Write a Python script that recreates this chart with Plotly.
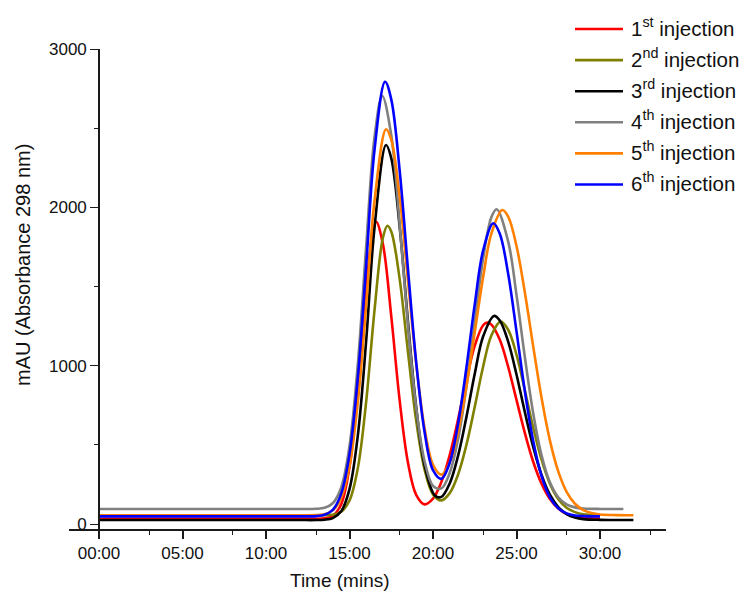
import plotly.graph_objects as go

# ---------------- data ----------------
series_names = ["1<sup>st</sup> injection", "2<sup>nd</sup> injection", "3<sup>rd</sup> injection",
                "4<sup>th</sup> injection", "5<sup>th</sup> injection", "6<sup>th</sup> injection"]
series_colors = ["#FF0000", "#808000", "#000000", "#808080", "#FF8000", "#0000FF"]

time_1st = [0, 10, 12, 13, 13.5, 14, 14.5, 15, 15.5, 16, 16.59, 17, 17.5, 18, 18.5, 19, 19.5, 20, 20.5, 21,
            21.5, 22, 22.5, 23, 23.25, 23.5, 24, 24.5, 25, 25.5, 26, 26.5, 27, 27.5, 28, 29, 30]
mau_1st = [33, 33, 33, 33, 36, 51, 124, 359, 858, 1507, 1909, 1768, 1313, 784, 388, 183, 124, 160, 265, 435,
           660, 908, 1126, 1255, 1272, 1259, 1163, 993, 784, 575, 393, 254, 158, 98, 64, 39, 34]

time_2nd = [0, 10, 12, 13, 13.5, 14, 14.5, 15, 15.5, 16, 16.5, 17, 17.27, 17.5, 18, 18.5, 19, 19.5, 20, 20.5,
            21, 21.5, 22, 22.5, 23, 23.5, 24.05, 24.5, 25, 25.5, 26, 26.5, 27, 27.5, 28, 28.5, 29, 30]
mau_2nd = [55, 55, 55, 55, 56, 59, 77, 148, 354, 775, 1353, 1808, 1884, 1848, 1550, 1088, 648, 342, 187, 149,
           195, 312, 499, 740, 993, 1192, 1278, 1227, 1069, 845, 609, 406, 255, 158, 103, 75, 62, 56]

time_3rd = [0, 10, 12, 13, 13.5, 14, 14.5, 15, 15.5, 16, 16.5, 17.19, 17.5, 18, 18.5, 19, 19.5, 20.12, 20.5, 21,
            21.5, 22, 22.5, 23, 23.65, 24, 24.5, 25, 25.5, 26, 26.5, 27, 27.5, 28, 28.5, 29, 30, 31, 32]
mau_3rd = [25, 25, 25, 25, 27, 37, 80, 220, 560, 1159, 1874, 2394, 2311, 1882, 1279, 732, 368, 179, 171, 256,
           430, 675, 949, 1184, 1314, 1285, 1152, 944, 707, 487, 310, 185, 107, 63, 41, 31, 26, 25, 25]

time_4th = [0, 10, 12, 13, 13.5, 14, 14.5, 15, 15.5, 16, 16.5, 16.96, 17.5, 18, 18.5, 19, 19.5, 20.02, 20.5, 21,
            21.5, 22, 22.5, 23, 23.5, 23.81, 24.5, 25, 25.5, 26, 26.5, 27, 27.5, 28, 28.5, 29, 30, 31.4]
mau_4th = [95, 95, 95, 96, 102, 131, 229, 492, 1012, 1755, 2446, 2703, 2456, 1898, 1256, 728, 395, 238, 225, 322,
           535, 867, 1277, 1676, 1939, 1988, 1785, 1447, 1055, 700, 434, 263, 169, 124, 105, 98, 95, 95]

time_5th = [0, 10, 12, 13, 13.5, 14, 14.5, 15, 15.5, 16, 16.5, 17.19, 17.5, 18, 18.5, 19, 19.5, 20, 20.5, 21,
            21.5, 22, 22.5, 23, 23.5, 24.15, 24.5, 25, 25.5, 26, 26.5, 27, 27.5, 28, 28.5, 29, 29.5, 30, 31, 32]
mau_5th = [55, 55, 55, 56, 62, 86, 165, 367, 772, 1384, 2043, 2493, 2427, 2071, 1539, 1007, 603, 374, 312, 388,
           580, 866, 1211, 1558, 1836, 1983, 1942, 1756, 1462, 1122, 797, 528, 332, 203, 128, 88, 69, 60, 56, 55]

time_6th = [0, 10, 12, 13, 13.5, 14, 14.5, 15, 15.5, 16, 16.5, 17.13, 17.5, 18, 18.5, 19, 19.5, 20, 20.5, 21,
            21.5, 22, 22.5, 23, 23.61, 24, 24.5, 25, 25.5, 26, 26.5, 27, 27.5, 28, 28.5, 29, 30]
mau_6th = [48, 48, 48, 50, 58, 89, 190, 441, 927, 1636, 2364, 2793, 2682, 2236, 1612, 1015, 578, 340, 285, 387,
           632, 987, 1387, 1727, 1899, 1833, 1581, 1217, 839, 524, 302, 168, 99, 67, 54, 50, 48]

x_tick_vals = [0, 5, 10, 15, 20, 25, 30]
x_tick_text = ["00:00", "05:00", "10:00", "15:00", "20:00", "25:00", "30:00"]
x_minor_vals = [3, 8, 13, 18, 23, 28, 33]
y_tick_vals = [0, 1000, 2000, 3000]
y_minor_vals = [500, 1500, 2500]

times = [time_1st, time_2nd, time_3rd, time_4th, time_5th, time_6th]
values = [mau_1st, mau_2nd, mau_3rd, mau_4th, mau_5th, mau_6th]

# ---------------- figure ----------------
W, H = 744, 592
ML, MR, MT, MB = 69, 78, 49, 63
PW, PH = W - ML - MR, H - MT - MB
FONT = "Liberation Sans, Arial, sans-serif"
AX = "#1a1a1a"

def px_x(p):
    return (p - ML) / PW

def px_y(p):
    return (H - MB - p) / PH

fig = go.Figure()
for t, v, c, n in zip(times, values, series_colors, series_names):
    fig.add_trace(go.Scatter(x=t, y=v, mode="lines", name=n, showlegend=False,
                             line=dict(color=c, width=2.6, shape="spline", smoothing=1.0)))

shapes = []
annotations = []
for i, (c, n) in enumerate(zip(series_colors, series_names)):
    yp = 29 + 31.1 * i
    shapes.append(dict(type="line", xref="paper", yref="paper",
                       x0=px_x(575), x1=px_x(623), y0=px_y(yp), y1=px_y(yp),
                       line=dict(color=c, width=2.6)))
    annotations.append(dict(xref="paper", yref="paper", x=px_x(629), y=px_y(yp - 2),
                            xanchor="left", yanchor="middle", showarrow=False, text=n,
                            font=dict(family=FONT, size=20.5, color="#111")))

annotations.append(dict(xref="paper", yref="paper", x=px_x(340), y=px_y(580),
                        xanchor="center", yanchor="middle", showarrow=False,
                        text="Time (mins)", font=dict(family=FONT, size=19, color="#111")))
annotations.append(dict(xref="paper", yref="paper", x=px_x(23), y=px_y(265),
                        xanchor="center", yanchor="middle", showarrow=False, textangle=-90,
                        text="mAU (Absorbance 298 nm)", font=dict(family=FONT, size=20, color="#111")))

fig.update_layout(
    width=W, height=H,
    margin=dict(l=ML, r=MR, t=MT, b=MB, pad=0),
    paper_bgcolor="white", plot_bgcolor="white",
    showlegend=False,
    font=dict(family=FONT, color="#111"),
    shapes=shapes, annotations=annotations,
    xaxis=dict(range=[(69 - 99) / 16.7, (666 - 99) / 16.7], showgrid=False, zeroline=False,
               showline=True, linecolor=AX, linewidth=1.6,
               tickmode="array", tickvals=x_tick_vals, ticktext=x_tick_text,
               ticks="outside", ticklen=8, tickwidth=1.6, tickcolor=AX,
               tickfont=dict(family=FONT, size=17, color="#111"),
               minor=dict(tickmode="array", tickvals=x_minor_vals, ticks="outside",
                          ticklen=4, tickwidth=1.4, tickcolor=AX, showgrid=False)),
    yaxis=dict(range=[-31.6, 3000], showgrid=False, zeroline=False,
               anchor="free", position=(99 - ML) / PW,
               showline=True, linecolor=AX, linewidth=1.6,
               tickmode="array", tickvals=y_tick_vals,
               ticks="outside", ticklen=8, tickwidth=1.4, tickcolor=AX,
               tickfont=dict(family=FONT, size=17, color="#111"),
               minor=dict(tickmode="array", tickvals=y_minor_vals, ticks="outside",
                          ticklen=4, tickwidth=1.4, tickcolor=AX, showgrid=False)),
)

fig.write_html("out.html", config={"displayModeBar": False},
               post_script="document.body.style.margin='0';document.body.style.overflow='hidden';")
